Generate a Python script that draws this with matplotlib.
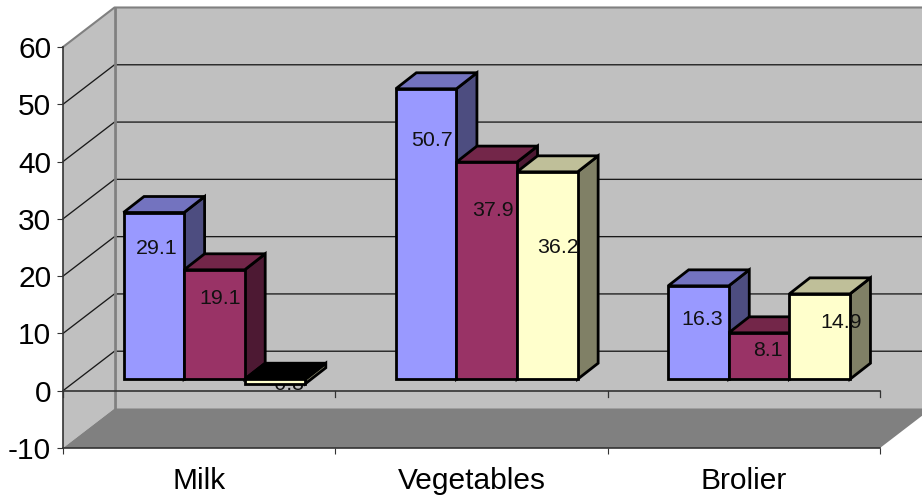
import matplotlib
matplotlib.use("Agg")
import matplotlib.pyplot as plt
from matplotlib.patches import Polygon

plt.rcParams['font.family'] = ['Liberation Sans', 'DejaVu Sans']
plt.rcParams['axes.unicode_minus'] = False

categories = ['Milk', 'Vegetables', 'Brolier']
series_a = [29.1, 50.7, 16.3]
series_b = [19.1, 37.9, 8.1]
series_c = [-0.8, 36.2, 14.9]
y_ticks = [-10, 0, 10, 20, 30, 40, 50, 60]

# face colours per series: front, top, side
colors = [('#9999FF', '#7373BF', '#4D4D80'),
          ('#993366', '#732649', '#4D1933'),
          ('#FFFFCC', '#BFBF99', '#808066')]

# where the labels sit, pixels from front face centre / top edge
label_dx = [[3, 6, 10], [6, 6, 11], [3.5, 9, 21]]
label_dy = [[35.5, 28.5, 5], [51.5, 48.5, 75.5], [33.5, 17.5, 28.5]]

fig = plt.figure(figsize=(9.22, 5), dpi=100)
ax = fig.add_axes([63 / 922, (500 - 448) / 500, 817 / 922, 401 / 500])
ax.set_xlim(0, 3)
ax.set_ylim(-10, 60)
ax.patch.set_visible(False)

# pixels to data units
px_x = 3 / 817
px_y = 70 / 401

wall_dx = 51.5 * px_x
wall_dy = 39.5 * px_y
bar_dx = 20.5 * px_x
bar_dy = 16 * px_y
lift = 11.5 * px_y
bar_w = 60.6 * px_x
bar_start = 60.5 * px_x


def poly(pts, fc, ec='none', lw=0, z=1):
    p = Polygon(pts, closed=True, facecolor=fc, edgecolor=ec, linewidth=lw,
                zorder=z, clip_on=False, joinstyle='miter')
    ax.add_patch(p)


# walls and floor
poly([(0, -10), (wall_dx, -10 + wall_dy), (wall_dx, 60 + wall_dy), (0, 60)], '#C0C0C0')
poly([(wall_dx, -10 + wall_dy), (3 + wall_dx, -10 + wall_dy),
      (3 + wall_dx, 60 + wall_dy), (wall_dx, 60 + wall_dy)], '#C0C0C0')
poly([(0, -10), (wall_dx, -10 + wall_dy), (3 + wall_dx, -10 + wall_dy), (3, -10)], '#808080')

# gridlines on the back and side wall
for v in [0, 10, 20, 30, 40, 50]:
    ax.plot([0, wall_dx, 3 + wall_dx], [v, v + wall_dy, v + wall_dy], color='#1A1A1A',
            lw=0.95, zorder=1.5, clip_on=False)
ax.plot([0, wall_dx, 3 + wall_dx], [60, 60 + wall_dy, 60 + wall_dy], color='#808080',
        lw=1.5, zorder=1.5, clip_on=False)
ax.plot([wall_dx, wall_dx], [-10 + wall_dy, 60 + wall_dy], color='#808080',
        lw=2, zorder=1.6, clip_on=False)

# zero line with its ticks
ax.plot([0, 3], [0, 0], color='#333333', lw=1.2, zorder=2, clip_on=False)
for i in range(4):
    ax.plot([i, i], [0, -6 * px_y], color='#333333', lw=0.9, zorder=2, clip_on=False)

# bars
all_series = [series_a, series_b, series_c]
for c in range(len(categories)):
    for s, values in enumerate(all_series):
        v = values[c]
        x0 = c + bar_start + s * bar_w
        x1 = x0 + bar_w
        top = max(v, 0) + lift
        low = min(v, 0) + lift
        front, top_col, side = colors[s]
        if v < 0:
            top_col = 'black'
        z = 3 + c + s * 0.1
        poly([(x1, low), (x1 + bar_dx, low + bar_dy), (x1 + bar_dx, top + bar_dy), (x1, top)],
             side, 'black', 2, z)
        poly([(x0, top), (x0 + bar_dx, top + bar_dy), (x1 + bar_dx, top + bar_dy), (x1, top)],
             top_col, 'black', 2, z)
        poly([(x0, low), (x1, low), (x1, top), (x0, top)], front, 'black', 2, z)

        lx = (x0 + x1) / 2 + label_dx[c][s] * px_x
        ly = top - label_dy[c][s] * px_y
        # the negative label sits behind its own bar
        lz = z - 0.05 if v < 0 else 10
        ax.text(lx, ly, f'{v:.1f}', ha='center', va='center', fontsize=15.4,
                color='#111111', zorder=lz, clip_on=False)

# axes
for side in ['top', 'right']:
    ax.spines[side].set_visible(False)
for side in ['left', 'bottom']:
    ax.spines[side].set_color('#333333')
    ax.spines[side].set_linewidth(1.2)
    ax.spines[side].set_zorder(2)

ax.set_yticks(y_ticks)
ax.tick_params(axis='y', length=4.5, width=0.8, color='#333333', labelsize=21.5, pad=4)
ax.set_xticks([0, 1, 2, 3])
ax.set_xticklabels([])
ax.tick_params(axis='x', which='major', length=4.5, width=0.8, color='#333333')
ax.set_xticks([0.5, 1.5, 2.5], minor=True)
ax.set_xticklabels(categories, minor=True)
ax.tick_params(axis='x', which='minor', length=0, labelsize=21.5, pad=14)

fig.savefig('out.png', dpi=100)
